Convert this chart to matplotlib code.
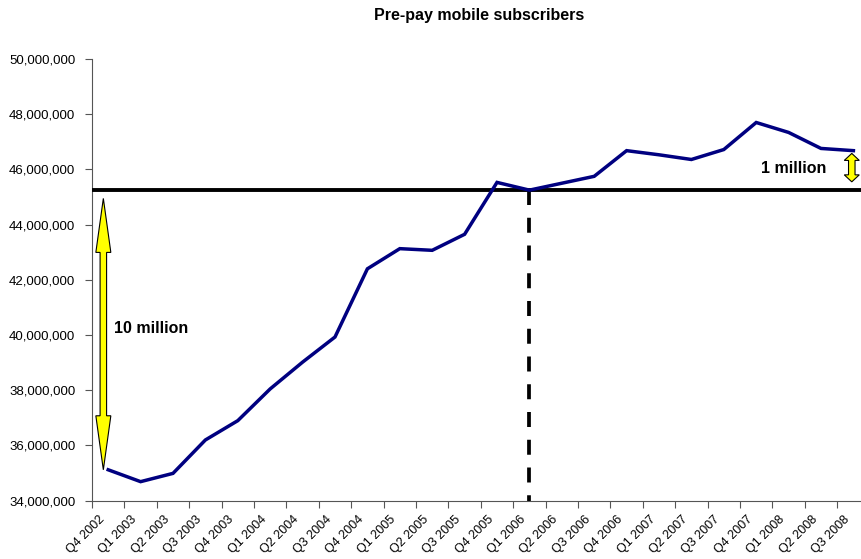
import matplotlib
matplotlib.use('Agg')
import matplotlib.pyplot as plt
from matplotlib.patches import Polygon
from matplotlib.ticker import FuncFormatter, FixedLocator
from matplotlib.transforms import ScaledTranslation

plt.rcParams['font.family'] = ['Liberation Sans', 'DejaVu Sans']

quarters = ['Q4 2002', 'Q1 2003', 'Q2 2003', 'Q3 2003', 'Q4 2003', 'Q1 2004',
            'Q2 2004', 'Q3 2004', 'Q4 2004', 'Q1 2005', 'Q2 2005', 'Q3 2005',
            'Q4 2005', 'Q1 2006', 'Q2 2006', 'Q3 2006', 'Q4 2006', 'Q1 2007',
            'Q2 2007', 'Q3 2007', 'Q4 2007', 'Q1 2008', 'Q2 2008', 'Q3 2008']
subscribers = [35120000, 34690000, 34990000, 36200000, 36900000, 38050000,
               39020000, 39930000, 42400000, 43130000, 43070000, 43650000,
               45530000, 45250000, 45500000, 45750000, 46680000, 46530000,
               46360000, 46720000, 47700000, 47340000, 46760000, 46680000]
ref_idx = 13  # Q1 2006
ref_level = subscribers[ref_idx]

fig = plt.figure(figsize=(8.62, 5.59), dpi=100)
ax = fig.add_axes([92 / 862, 58.3 / 559, 777.6 / 862, 441.7 / 559])

x = list(range(len(quarters)))
ax.plot(x, subscribers, color='#000080', lw=2.5, solid_joinstyle='miter', zorder=4)

ax.set_xlim(-0.5, len(quarters) - 0.5)
ax.set_ylim(34000000, 50000000)
ax.set_yticks(range(34000000, 50000001, 2000000))
ax.yaxis.set_major_formatter(FuncFormatter(lambda v, p: f'{int(v):,}'))

ax.set_xticks(x)
ax.set_xticklabels(quarters, rotation=45, ha='right', va='center', rotation_mode='anchor')
ax.xaxis.set_minor_locator(FixedLocator([i - 0.5 for i in range(len(quarters) + 1)]))
ax.tick_params(axis='x', which='major', length=0, pad=12, labelsize=9)
ax.tick_params(axis='x', which='minor', length=5, width=0.8, color='#555555')
ax.tick_params(axis='y', length=5, width=0.8, color='#555555', pad=7, labelsize=9.5)
shift = ScaledTranslation(-4 / 72, 0, fig.dpi_scale_trans)
for lab in ax.get_xticklabels():
    lab.set_transform(lab.get_transform() + shift)

for s in ['top', 'right']:
    ax.spines[s].set_visible(False)
for s in ['left', 'bottom']:
    ax.spines[s].set_color('#555555')
    ax.spines[s].set_linewidth(0.8)

# reference level and marker at Q1 2006
ax.axhline(ref_level, color='black', lw=2.8, zorder=3)
ax.plot([ref_idx, ref_idx], [ref_level, 34000000], color='black', lw=2.7,
        dashes=[4.0, 3.4], solid_capstyle='butt', zorder=2, clip_on=False)


def double_arrow(ax, xc, y0, y1, shaft=6.5, head_w=15, head_len=50):
    px, bot = ax.transData.transform((xc, y0))
    _, top = ax.transData.transform((xc, y1))
    s, hw = shaft / 2, head_w / 2
    pts = [(px, top), (px + hw, top - head_len), (px + s, top - head_len),
           (px + s, bot + head_len), (px + hw, bot + head_len), (px, bot),
           (px - hw, bot + head_len), (px - s, bot + head_len),
           (px - s, top - head_len), (px - hw, top - head_len)]
    inv = ax.transData.inverted()
    data_pts = [inv.transform(p) for p in pts]
    ax.add_patch(Polygon(data_pts, closed=True, facecolor='#ffff00',
                         edgecolor='black', lw=0.8, zorder=5, clip_on=False))


double_arrow(ax, -0.15, subscribers[0], 44950000, head_len=54)
double_arrow(ax, 22.95, 45550000, 46580000, head_len=7)

ax.text(0.19, 40250000, '10 million', fontsize=11.5, fontweight='bold', va='center', ha='left')
ax.text(20.14, 46030000, '1 million', fontsize=11.5, fontweight='bold', va='center', ha='left')

fig.text(479 / 862, 1 - 15.7 / 559, 'Pre-pay mobile subscribers', fontsize=11.5,
         fontweight='bold', ha='center', va='center')

fig.savefig('out.png', dpi=100)
